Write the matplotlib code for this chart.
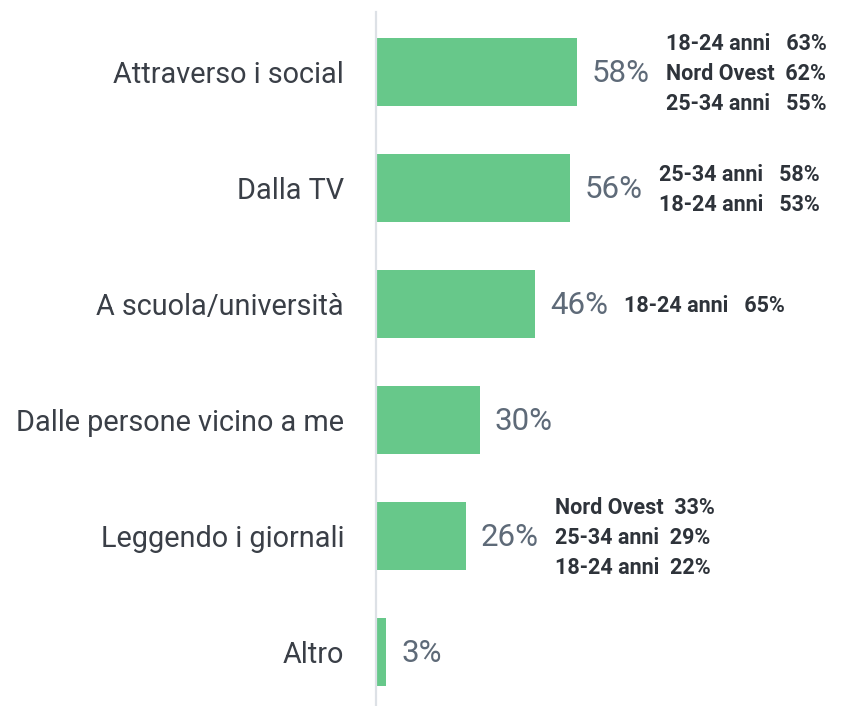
import matplotlib
matplotlib.use("Agg")
import matplotlib.pyplot as plt
from matplotlib.transforms import offset_copy

categories = ["Attraverso i social", "Dalla TV", "A scuola/università",
              "Dalle persone vicino a me", "Leggendo i giornali", "Altro"]
values = [58, 56, 46, 30, 26, 3]
notes = [
    ["18-24 anni   63%", "Nord Ovest  62%", "25-34 anni   55%"],
    ["25-34 anni   58%", "18-24 anni   53%"],
    ["18-24 anni   65%"],
    [],
    ["Nord Ovest  33%", "25-34 anni  29%", "18-24 anni  22%"],
    [],
]

W, H = 846, 706
fig = plt.figure(figsize=(W / 100, H / 100), dpi=100)
ax_left, ax_right = 376, 846
ax_top, ax_bot = 12, 706
ax = fig.add_axes([ax_left / W, 1 - ax_bot / H, (ax_right - ax_left) / W, (ax_bot - ax_top) / H])

px_per_unit = 3.46
ax.set_xlim(0, (ax_right - ax_left) / px_per_unit)
ax.set_ylim((ax_bot - 72) / 116, -(72 - ax_top) / 116)

ypos = list(range(len(categories)))
ax.barh(ypos, values, height=68 / 116, color="#67C88A", edgecolor="none")

for s in ["top", "right", "bottom"]:
    ax.spines[s].set_visible(False)
ax.spines["left"].set_color("#DDE1E6")
ax.spines["left"].set_linewidth(1.6)
ax.set_xticks([])
ax.set_yticks(ypos)
ax.set_yticklabels(categories, fontfamily="Roboto", fontsize=20.8, color="#3A3F47")
ax.tick_params(axis="y", length=0, pad=23)

for i, (v, n) in enumerate(zip(values, notes)):
    t = offset_copy(ax.transData, fig=fig, x=15, y=-1, units="dots")
    ax.text(v, i, f"{v}%", transform=t, ha="left", va="center",
            fontfamily="Roboto", fontsize=22.5, color="#5E6A78")
    k = len(n)
    for j, line in enumerate(n):
        dy = (j - (k - 1) / 2) * 30 + 2
        t2 = offset_copy(ax.transData, fig=fig, x=89, y=-dy, units="dots")
        ax.text(v, i, line, transform=t2, ha="left", va="center",
                fontfamily="Roboto", fontweight="bold", fontsize=15.5, color="#2E333A")

fig.savefig("out.png", dpi=100)
